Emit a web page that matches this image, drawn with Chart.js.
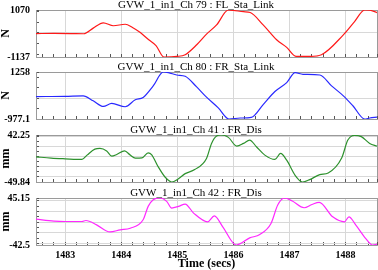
<!DOCTYPE html>
<html>
<head>
<meta charset="utf-8">
<script src="https://cdn.jsdelivr.net/npm/chart.js@4/dist/chart.umd.min.js"></script>
<style>
  html, body { margin: 0; padding: 0; background: #fff; overflow: hidden; }
  #wrap { position: relative; width: 378px; height: 270px; overflow: hidden; }
  #wrap canvas { position: absolute; left: 0; display: block; }
</style>
</head>
<body>
<div id="wrap">
  <canvas id="p1" width="392" height="63" style="top:0px"></canvas>
  <canvas id="p2" width="392" height="63" style="top:62px"></canvas>
  <canvas id="p3" width="392" height="63" style="top:125px"></canvas>
  <canvas id="p4" width="392" height="82" style="top:188px"></canvas>
</div>
<script>
// channel titles, units and y limits (max / min are the only labelled y ticks)
const titles = ['GVW_1_in1_Ch 79 : FL_Sta_Link', 'GVW_1_in1_Ch 80 : FR_Sta_Link',
                'GVW_1_in1_Ch 41 : FR_Dis', 'GVW_1_in1_Ch 42 : FR_Dis'];
const units = ['N', 'N', 'mm', 'mm'];
const yMax = [1070, 1258, 42.25, 45.15];
const yMin = [-1137, -977.1, -49.84, -42.5];
const yTickStep = [500, 500, 10, 10];
const yGridStep = [2000, 2000, 20, 20];

// time axis
const xMin = 1482.48;
const xMax = 1488.56;
const xLabels = [1483, 1484, 1485, 1486, 1487, 1488];

// Ch 79 FL_Sta_Link (N)
const tFL = [1482.48, 1482.8, 1483.1, 1483.33, 1483.5, 1483.68, 1483.86, 1484.07, 1484.2, 1484.34,
             1484.49, 1484.62, 1484.76, 1484.99, 1485.14, 1485.35, 1485.52, 1485.7, 1485.91, 1486.0,
             1486.18, 1486.3, 1486.53, 1486.77, 1486.95, 1487.12, 1487.36, 1487.57, 1487.96, 1488.16,
             1488.34, 1488.43, 1488.56];
const vFL = [-35, -30, -35, -45, 220, 470, 330, 400, 250, 10,
             -330, -600, -1137, -1110, -1030, -550, -64, 370, 1070, 1050,
             990, 950, 370, -329, -687, -1110, -1110, -1030, -96, 526,
             1070, 1060, 950];

// Ch 80 FR_Sta_Link (N)
const tFR = [1482.48, 1483.0, 1483.32, 1483.5, 1483.68, 1483.83, 1484.07, 1484.25, 1484.39, 1484.57,
             1484.75, 1484.84, 1484.99, 1485.14, 1485.34, 1485.52, 1485.73, 1485.92, 1486.12, 1486.32,
             1486.53, 1486.74, 1486.95, 1487.1, 1487.24, 1487.54, 1487.75, 1487.96, 1488.13, 1488.34,
             1488.43, 1488.56];
const vFR = [90, 100, 125, -112, -379, -237, -394, -65, 46, 597,
             1258, 1226, 1116, 1053, 560, 60, -450, -977.1, -930, -900,
             -290, 330, 755, 1226, 1148, 1116, 597, 125, -347, -977.1,
             -930, -890];

// Ch 41 FR_Dis (mm)
const tD41 = [1482.48, 1482.75, 1483.0, 1483.3, 1483.39, 1483.53, 1483.62, 1483.74, 1483.83, 1483.92,
              1484.06, 1484.16, 1484.25, 1484.37, 1484.48, 1484.54, 1484.66, 1484.78, 1484.9, 1485.02,
              1485.14, 1485.31, 1485.52, 1485.61, 1485.7, 1485.78, 1485.91, 1486.06, 1486.18, 1486.29,
              1486.41, 1486.56, 1486.74, 1486.84, 1486.95, 1487.1, 1487.23, 1487.36, 1487.54, 1487.69,
              1487.93, 1488.04, 1488.16, 1488.28, 1488.43, 1488.56];
const vD41 = [-0.5, -3, -4.4, -5.7, 2.8, 14.6, 15.9, 11, 0.8, 4,
              11.3, 3, -3.1, -2.5, 7.4, 4, -20.2, -40, -49.84, -43.3,
              -33.4, -25.5, -3.8, 25.8, 40.3, 42.25, 37.6, 20.5, 25.8, 32.4,
              19.2, 2.8, -5.7, 6.1, -7.1, -36.7, -49.8, -45.2, -35.4, -32.1,
              -3, 32.4, 41.6, 39, 25.8, 20.5];

// Ch 42 FR_Dis (mm)
const tD42 = [1482.48, 1482.8, 1483.0, 1483.3, 1483.37, 1483.56, 1483.8, 1483.98, 1484.16, 1484.39,
              1484.48, 1484.57, 1484.69, 1484.81, 1484.9, 1485.02, 1485.14, 1485.29, 1485.54, 1485.66,
              1485.81, 1486.05, 1486.29, 1486.47, 1486.67, 1486.79, 1486.91, 1487.05, 1487.26, 1487.4,
              1487.53, 1487.77, 1487.98, 1488.06, 1488.18, 1488.36, 1488.48, 1488.56];
const vD42 = [5.7, 2, 1.3, 1.3, 3.2, -4.9, -18.1, -14.3, -11.2, 4.5,
              29.5, 42, 45.15, 38.9, 26.4, 29.5, 33.9, 17, 0.7, 11.9,
              -8.7, -42.5, -29.3, -23, -2.4, 32, 45.15, 39.5, 27, 33,
              37, 10.1, 0.7, 10.1, -4.9, -30.5, -42.5, -41];

const times = [tFL, tFR, tD41, tD42];
const values = [vFL, vFR, vD41, vD42];
const colors = ['rgb(255,25,25)', 'rgb(40,40,255)', 'rgb(45,145,45)', 'rgb(255,40,255)'];

const serif = 'Liberation Serif, Times New Roman, serif';
const frameColor = '#9a9a9a';
const gridColor = '#d8d8d8';
const tickMarkColor = '#555';

// minor ticks every 0.2 s, labels only on whole seconds
const xTicks = [xMin];
for (let k = Math.ceil(xMin * 5); k <= Math.floor(xMax * 5); k++) xTicks.push(k / 5);
xTicks.push(xMax);

function yTicksFor(i) {
    const out = [yMin[i]];
    const s = yTickStep[i];
    for (let k = Math.ceil(yMin[i] / s); k <= Math.floor(yMax[i] / s); k++) {
        const v = k * s;
        if (v > yMin[i] && v < yMax[i]) out.push(v);
    }
    out.push(yMax[i]);
    return out;
}

function makePanel(i) {
    const last = i === 3;
    const axisH = last ? 25 : 6;
    new Chart(document.getElementById('p' + (i + 1)), {
        type: 'line',
        data: {
            datasets: [{
                data: times[i].map((t, j) => ({ x: t, y: values[i][j] })),
                borderColor: colors[i],
                borderWidth: 1.2,
                pointRadius: 0,
                cubicInterpolationMode: 'monotone',
                fill: false
            }]
        },
        options: {
            responsive: false,
            animation: false,
            events: [],
            layout: { padding: 0 },
            plugins: {
                legend: { display: false },
                tooltip: { enabled: false },
                title: {
                    display: true,
                    text: titles[i],
                    color: '#000',
                    padding: 0,
                    font: { family: serif, size: 11, weight: 'normal', lineHeight: '10px' }
                }
            },
            scales: {
                x: {
                    type: 'linear',
                    min: xMin,
                    max: xMax,
                    afterBuildTicks: s => { s.ticks = xTicks.map(v => ({ value: v })); },
                    afterFit: s => { s.height = axisH; s.paddingLeft = 0; s.paddingRight = 0; },
                    ticks: {
                        display: last,
                        autoSkip: false,
                        maxRotation: 0,
                        padding: 7,
                        color: '#000',
                        font: { family: serif, size: 10, weight: 'bold' },
                        callback: v => xLabels.includes(v) ? String(v) : ''
                    },
                    grid: {
                        color: ctx => {
                            const v = ctx.tick.value;
                            if (v === xMin || v === xMax) return frameColor;
                            return Number.isInteger(v) ? gridColor : 'rgba(0,0,0,0)';
                        },
                        tickLength: -3,
                        tickColor: tickMarkColor
                    },
                    border: { color: frameColor },
                    title: {
                        display: last,
                        text: 'Time (secs)',
                        color: '#000',
                        padding: { top: 0, bottom: 0 },
                        font: { family: serif, size: 12, weight: 'bold', lineHeight: 1 }
                    }
                },
                y: {
                    min: yMin[i],
                    max: yMax[i],
                    afterBuildTicks: s => { s.ticks = yTicksFor(i).map(v => ({ value: v })); },
                    afterFit: s => { s.width = 36; s.paddingTop = 0; s.paddingBottom = 0; },
                    ticks: {
                        autoSkip: false,
                        padding: 9,
                        color: '#000',
                        font: { family: serif, size: 10, weight: 'bold' },
                        callback: v => (v === yMin[i] || v === yMax[i]) ? String(v) : ''
                    },
                    grid: {
                        color: ctx => {
                            const v = ctx.tick.value;
                            if (v === yMin[i] || v === yMax[i]) return frameColor;
                            return v % yGridStep[i] === 0 ? gridColor : 'rgba(0,0,0,0)';
                        },
                        tickLength: -3,
                        tickColor: tickMarkColor
                    },
                    border: { color: frameColor },
                    title: {
                        display: true,
                        text: units[i],
                        color: '#000',
                        padding: { top: -0.5, bottom: 0 },
                        font: { family: serif, size: 12, weight: 'bold', lineHeight: 1 }
                    }
                },
                // empty strip on the right so the title centres where the original does
                spacer: {
                    position: 'right',
                    afterFit: s => { s.width = 15; s.paddingTop = 0; s.paddingBottom = 0; },
                    ticks: { display: false },
                    grid: { display: false },
                    border: { display: false }
                }
            }
        }
    });
}

document.addEventListener('DOMContentLoaded', function () {
    for (let i = 0; i < 4; i++) makePanel(i);
});
</script>
</body>
</html>
